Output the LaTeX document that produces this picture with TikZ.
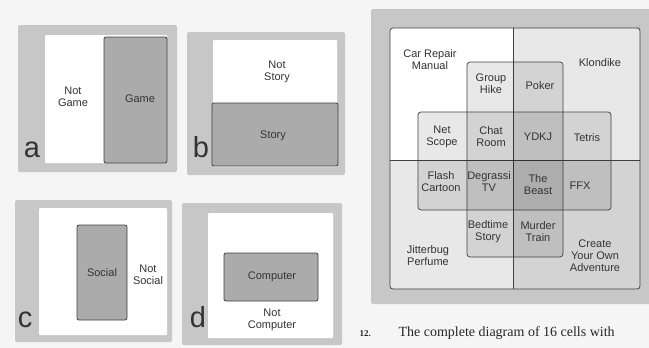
\documentclass[tikz,border=0pt]{standalone}
\usepackage{fontspec}
\setmainfont{Liberation Serif}
\setsansfont{Liberation Sans}

\colorlet{pagebg}{black!4}
\colorlet{framegray}{black!22}
\colorlet{setgray}{black!33}
\colorlet{inkgray}{black!75}

\tikzset{
  frame/.style={fill=framegray, rounded corners=2pt},
  blank/.style={fill=white, rounded corners=1pt},
  setbox/.style={draw=inkgray, fill=setgray, line width=.8pt, rounded corners=2pt},
  layer/.style={fill=black, fill opacity=.09},
  layerbox/.style={draw=inkgray, line width=.7pt, fill=black, fill opacity=.09, rounded corners=3pt},
  cell/.style={font=\sffamily\fontsize{11}{12}\selectfont, align=center, text=black!80},
  letter/.style={font=\sffamily\fontsize{29}{29}\selectfont, anchor=base, text=black!80},
}

\begin{document}
\begin{tikzpicture}[x=1pt,y=-1pt]

  \fill[pagebg] (0,0) rectangle (649,348);
  \useasboundingbox (0,0) rectangle (649,348);

  % a
  \fill[frame] (18,25) rectangle (177,172);
  \fill[blank] (45,35) rectangle (167,163);
  \draw[setbox] (104,37) rectangle (167,163);
  % b
  \fill[frame] (187,32) rectangle (345,175);
  \fill[blank] (213,40) rectangle (337,167);
  \draw[setbox] (212,103) rectangle (338,166);
  % c
  \fill[frame] (15,200) rectangle (172,342);
  \fill[blank] (39,208) rectangle (167,335);
  \draw[setbox] (77,225) rectangle (127,320);
  % d
  \fill[frame] (182,203) rectangle (342,345);
  \fill[blank] (208,213) rectangle (333,338);
  \draw[setbox] (224,253) rectangle (318,301);

  \begin{scope}[every node/.style={cell}]
    \node (notgame)  at (73,97)   {Not\\Game};
    \node (game)     at (140,99)  {Game};
    \node (notstory) at (277,72)  {Not\\Story};
    \node (story)    at (273,136) {Story};
    \node (social)   at (102,273) {Social};
    \node (notsocial) at (148,275) {Not\\Social};
    \node (computer) at (272,277) {Computer};
    \node (notcomputer) at (272,320) {Not\\Computer};
  \end{scope}

  \begin{scope}[every node/.style={letter}]
    \node (la) at (32,157)  {a};
    \node (lb) at (201,157) {b};
    \node (lc) at (25,327)  {c};
    \node (ld) at (198,327) {d};
  \end{scope}

  % complete diagram
  \fill[frame] (371,9) rectangle (655,304);
  \fill[white, rounded corners=3pt] (390,28) rectangle (640,289);
  \fill[layer] (513,28) -- (636,28) arc[start angle=90, end angle=0, radius=4] -- (640,289) -- (513,289) -- cycle;
  \fill[layer] (390,160) rectangle (640,289);
  \draw[inkgray, line width=.7pt] (513,28) -- (513,289);
  \draw[inkgray, line width=.7pt] (390,160) -- (640,160);
  \draw[layerbox] (467,62) rectangle (563,257);
  \draw[layerbox] (418,112) rectangle (611,210);
  \draw[inkgray, line width=.7pt, rounded corners=3pt] (390,28) rectangle (640,289);

  \begin{scope}[every node/.style={cell}]
    \node (carrepair)  at (430,60)  {Car Repair\\Manual};
    \node (klondike)   at (600,63)  {Klondike};
    \node (grouphike)  at (491,84)  {Group\\Hike};
    \node (poker)      at (540,86)  {Poker};
    \node (netscope)   at (442,137) {Net\\Scope};
    \node (chatroom)   at (491,137) {Chat\\Room};
    \node (ydkj)       at (538,137) {YDKJ};
    \node (tetris)     at (587,138) {Tetris};
    \node (flash)      at (441,182) {Flash\\Cartoon};
    \node (degrassi)   at (489,182) {Degrassi\\TV};
    \node (beast)      at (538,185) {The\\Beast};
    \node (ffx)        at (580,186) {FFX};
    \node (bedtime)    at (488,232) {Bedtime\\Story};
    \node (murder)     at (538,232) {Murder\\Train};
    \node (jitterbug)  at (428,256) {Jitterbug\\Perfume};
    \node (cyoa)       at (595,256) {Create\\Your Own\\Adventure};
  \end{scope}

  \node[font=\bfseries\fontsize{9}{9}\selectfont, anchor=base west, text=black!85] (fignum) at (356,336) {12.};
  \node[font=\fontsize{14}{14}\selectfont, anchor=base west, text=black!85] (caption) at (395,336) {The complete diagram of 16 cells with};

\end{tikzpicture}
\end{document}
